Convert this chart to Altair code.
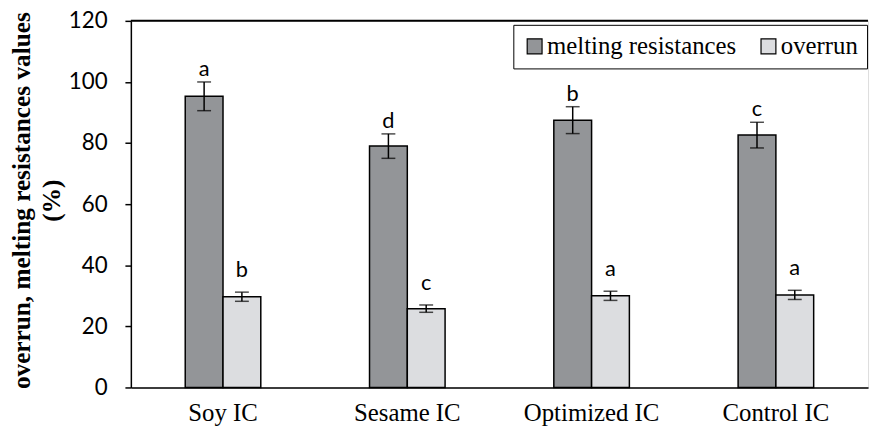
import altair as alt
import pandas as pd

categories = ["Soy IC", "Sesame IC", "Optimized IC", "Control IC"]
melting = [95.3, 79.0, 87.5, 82.6]
melting_err = [4.7, 4.0, 4.4, 4.2]
melting_letters = ["a", "d", "b", "c"]
overrun = [29.7, 25.8, 30.0, 30.3]
overrun_err = [1.5, 1.2, 1.5, 1.5]
overrun_letters = ["b", "c", "a", "a"]
series = ["melting resistances", "overrun"]

rows = []
for i, c in enumerate(categories):
    rows.append(dict(cat=c, s=series[0], v=melting[i], lo=melting[i] - melting_err[i],
                     hi=melting[i] + melting_err[i], lab=melting_letters[i]))
    rows.append(dict(cat=c, s=series[1], v=overrun[i], lo=overrun[i] - overrun_err[i],
                     hi=overrun[i] + overrun_err[i], lab=overrun_letters[i]))
df = pd.DataFrame(rows)

serif = "Liberation Serif"
sans = "Lato"

x = alt.X("cat:N", sort=categories, title=None,
          scale=alt.Scale(paddingInner=0.59, paddingOuter=0.295),
          axis=alt.Axis(labelFont=serif, labelFontSize=25, labelColor="black", labelAngle=0,
                        ticks=False, domainColor="black", domainWidth=1.5, labelPadding=13))
xo = alt.XOffset("s:N", sort=series, scale=alt.Scale(paddingInner=0, paddingOuter=0))
y = alt.Y("v:Q", scale=alt.Scale(domain=[0, 120]),
          axis=alt.Axis(values=[0, 20, 40, 60, 80, 100, 120], grid=False,
                        title=["overrun, melting resistances values", "(%)"],
                        titleFont=serif, titleFontSize=25.5, titleFontWeight="bold",
                        titleColor="black", titleLineHeight=30,
                        titleX=-97, titleY=181, titleAngle=270, titleBaseline="bottom",
                        titleAlign="center",
                        labelFont=sans, labelFontSize=22.5, labelColor="black", labelPadding=18,
                        tickColor="black", tickSize=6, tickWidth=1.5,
                        domainColor="black", domainWidth=1.5))

base = alt.Chart(df)

bars = base.mark_bar(stroke="black", strokeWidth=1.5).encode(
    x=x, xOffset=xo, y=y,
    color=alt.Color("s:N", sort=series,
                    scale=alt.Scale(domain=series, range=["#939598", "#dcdde0"]),
                    legend=alt.Legend(title=None, orient="none", legendX=386, legendY=4,
                                      direction="horizontal", labelFont=serif, labelFontSize=25,
                                      labelColor="black", symbolType="square", symbolSize=225,
                                      symbolStrokeColor="black", symbolStrokeWidth=1.2,
                                      strokeColor="black", padding=9, columnPadding=20,
                                      labelOffset=0, fillColor="white", labelLimit=400))
)

err = base.mark_rule(color="black", strokeWidth=1.5).encode(
    x=x, xOffset=xo, y="lo:Q", y2="hi:Q")
cap_hi = base.mark_tick(color="black", thickness=1.5, size=14, orient="horizontal").encode(
    x=x, xOffset=xo, y="hi:Q")
cap_lo = base.mark_tick(color="black", thickness=1.5, size=14, orient="horizontal").encode(
    x=x, xOffset=xo, y="lo:Q")
letters_m = base.transform_filter(alt.datum.s == series[0]).mark_text(
    font=sans, fontSize=22, color="black", dy=-1, baseline="bottom").encode(
    x=x, xOffset=xo, y="hi:Q", text="lab:N")
letters_o = base.transform_filter(alt.datum.s == series[1]).mark_text(
    font=sans, fontSize=22, color="black", dy=-10, baseline="bottom").encode(
    x=x, xOffset=xo, y="hi:Q", text="lab:N")

top = alt.Chart(pd.DataFrame({"t": [120]})).mark_rule(color="black", strokeWidth=2).encode(
    y=alt.Y("t:Q", scale=alt.Scale(domain=[0, 120])))

chart = alt.layer(bars, err, cap_hi, cap_lo, letters_m, letters_o, top).properties(
    width=744, height=370, autosize="none",
    padding={"left": 124, "top": 11, "right": 4, "bottom": 46}
).configure_view(stroke=None).configure(background="white")

chart.save("out.html", embed_options={"renderer": "svg", "actions": False})
